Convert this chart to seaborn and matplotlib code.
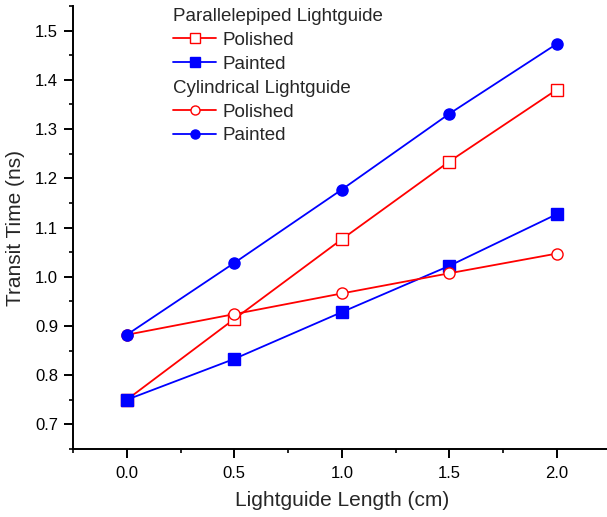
import matplotlib
matplotlib.use("Agg")
import matplotlib.pyplot as plt
import seaborn as sns
import numpy as np
import pandas as pd
from matplotlib.lines import Line2D
from matplotlib.ticker import MultipleLocator, FormatStrFormatter

# ---- data ----
length_cm = [0.0, 0.5, 1.0, 1.5, 2.0]
para_polished = [0.750, 0.914, 1.076, 1.234, 1.380]
para_painted = [0.750, 0.833, 0.928, 1.022, 1.127]
cyl_polished = [0.882, 0.924, 0.966, 1.007, 1.047]
cyl_painted = [0.882, 1.028, 1.177, 1.331, 1.473]

header_para = "Parallelepiped Lightguide"
header_cyl = "Cylindrical Lightguide"
label_polished = "Polished"
label_painted = "Painted"
xlabel = "Lightguide Length (cm)"
ylabel = "Transit Time (ns)"

sns.set_style("ticks")
plt.rcParams["font.family"] = ["Liberation Sans", "DejaVu Sans"]

W, H = 607, 517
fig = plt.figure(figsize=(W / 100, H / 100), dpi=100)
ax = fig.add_axes([73 / W, 68 / H, 537.5 / W, 443 / H])

RED = "#ff0000"
BLUE = "#0000ff"
lw = 1.3
ms = 8

series = [
    (para_polished, RED, "s", "white"),
    (para_painted, BLUE, "s", BLUE),
    (cyl_polished, RED, "o", "white"),
    (cyl_painted, BLUE, "o", BLUE),
]
for vals, col, mk, fc in series:
    df = pd.DataFrame({"x": length_cm, "y": vals})
    sns.lineplot(data=df, x="x", y="y", ax=ax, color=col, marker=mk,
                 markersize=ms, markerfacecolor=fc, markeredgecolor=col,
                 markeredgewidth=1.0, linewidth=lw, legend=False)

ax.set_xlim(-0.25, 2.25)
ax.set_ylim(0.65, 1.55)
ax.xaxis.set_major_locator(MultipleLocator(0.5))
ax.xaxis.set_minor_locator(MultipleLocator(0.25))
ax.yaxis.set_major_locator(MultipleLocator(0.1))
ax.yaxis.set_minor_locator(MultipleLocator(0.05))
ax.xaxis.set_major_formatter(FormatStrFormatter("%.1f"))
ax.yaxis.set_major_formatter(FormatStrFormatter("%.1f"))

for s in ["top", "right"]:
    ax.spines[s].set_visible(False)
for s in ["left", "bottom"]:
    ax.spines[s].set_linewidth(1.4)
    ax.spines[s].set_color("black")
ax.tick_params(which="major", direction="out", length=6.2, width=1.4,
               labelsize=12, colors="black")
ax.tick_params(which="minor", direction="out", length=3.2, width=1.4)
ax.tick_params(axis="x", which="major", pad=6)
ax.tick_params(axis="y", which="major", pad=4.5)

ax.set_xlabel(xlabel, fontsize=15, labelpad=7)
ax.set_ylabel(ylabel, fontsize=15, labelpad=7)

# ---- legend ----
blank = Line2D([], [], linestyle="none", marker=None)
lms = 6.5
handles = [
    blank,
    Line2D([], [], color=RED, lw=lw, marker="s", ms=lms, mfc="white", mec=RED),
    Line2D([], [], color=BLUE, lw=lw, marker="s", ms=lms, mfc=BLUE, mec=BLUE),
    blank,
    Line2D([], [], color=RED, lw=lw, marker="o", ms=lms, mfc="white", mec=RED),
    Line2D([], [], color=BLUE, lw=lw, marker="o", ms=lms, mfc=BLUE, mec=BLUE),
]
labels = [header_para, label_polished, label_painted,
          header_cyl, label_polished, label_painted]
leg = fig.legend(handles, labels, loc="upper left",
                 bbox_to_anchor=(173 / W, 1 - 8 / H), frameon=False,
                 fontsize=13.5, handlelength=2.3, handletextpad=0.32,
                 labelspacing=0.36, borderpad=0, borderaxespad=0)
items = leg._legend_handle_box.get_children()[0].get_children()
for idx in (0, 3):
    hp = items[idx]
    hp.sep = 0
    hp.get_children()[0].width = 0

fig.savefig("out.png", dpi=100)
